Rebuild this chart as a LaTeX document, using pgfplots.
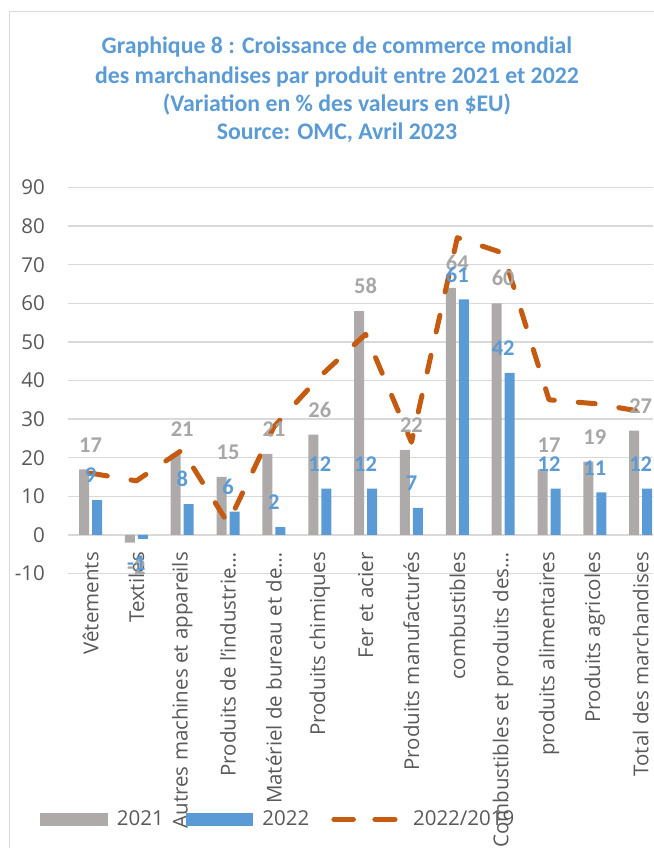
\documentclass[border=0pt]{standalone}
\usepackage{pgfplots}
\pgfplotsset{compat=1.18}
\usepackage{fontspec}
\setmainfont{Open Sans}
\newfontfamily\calibri{Carlito}
\definecolor{gA}{HTML}{AEAAAA}
\definecolor{gL}{HTML}{A8A6A6}
\definecolor{bB}{HTML}{5B9BD5}
\definecolor{oC}{HTML}{C55A11}
\definecolor{gridc}{HTML}{D9D9D9}
\definecolor{txt}{HTML}{595959}
\newcommand{\tickfont}{\fontsize{20.5}{24}\selectfont}
\newcommand{\lblfont}{\calibri\bfseries\fontsize{22.5}{24}\selectfont}
\begin{document}
\begin{tikzpicture}
\useasboundingbox (0,0) rectangle (653pt,848pt);
\draw[gridc, line width=1.5pt] (9.3pt,-5pt) -- (9.3pt,836.3pt) -- (670pt,836.3pt);
\begin{scope}[every node/.style={anchor=base, text=bB, font=\calibri\bfseries\fontsize{23.8}{28}\selectfont}]
\node at (337pt,794.7pt) {Graphique 8 : Croissance de commerce mondial};
\node at (337pt,764.7pt) {des marchandises par produit entre 2021 et 2022};
\node at (337pt,736.3pt) {(Variation en \% des valeurs en \$EU)};
\node at (337pt,708pt) {Source: OMC, Avril 2023};
\end{scope}
\begin{axis}[
  at={(67.6pt,274.5pt)}, anchor=south west,
  scale only axis, width=585.4pt, height=386pt,
  xmin=-0.5, xmax=12.268, ymin=-10, ymax=90,
  ytick={-10,0,10,20,30,40,50,60,70,80,90},
  yticklabels={-10,0,10,20,30,40,50,60,70,80,90},
  xtick={0,1,2,3,4,5,6,7,8,9,10,11,12},
  xticklabels={Vêtements,Textiles,Autres machines et appareils,Produits de l'industrie…,Matériel de bureau et de…,Produits chimiques,Fer et acier,Produits manufacturés,combustibles,Combustibles et produits des…,produits alimentaires,Produits agricoles,Total des marchandises},
  ymajorgrids, grid style={gridc, line width=1.5pt},
  axis line style={draw=none}, major tick length=0pt, tick style={draw=none},
  yticklabel style={font=\tickfont, text=txt, inner sep=0pt},
  yticklabel shift=22.6pt,
  xticklabel style={rotate=90, anchor=east, inner sep=0pt, font=\tickfont, text=txt},
  xticklabel shift=-21.5pt,
  clip=false,
  legend columns=3,
  legend style={at={(-0.04715,-0.6368)}, anchor=west, draw=none, fill=none, inner sep=0pt,
    nodes={inner sep=0pt, font=\tickfont, text=txt},
    /tikz/every odd column/.style={column sep=9pt},
    /tikz/every even column/.style={column sep=22pt}},
  every node near coord/.append style={font=\lblfont, inner xsep=0pt, inner ysep=17pt},
]
\addplot[ybar, bar width=10pt, bar shift=-6.5pt, fill=gA, draw=none,
  nodes near coords={\pgfmathprintnumber[assume math mode=true]{\pgfplotspointmeta}},
  nodes near coords align={vertical},
  every node near coord/.append style={text=gL},
  legend image code/.code={\fill[gA] (0pt,-6.5pt) rectangle (67.7pt,6.5pt);}]
  coordinates {(0,17) (1,-2) (2,21) (3,15) (4,21) (5,26) (6,58) (7,22) (8,64) (9,60) (10,17) (11,19) (12,27)};
\addlegendentry{2021}
\addplot[ybar, bar width=10pt, bar shift=6.5pt, fill=bB, draw=none,
  nodes near coords={\pgfmathprintnumber[assume math mode=true]{\pgfplotspointmeta}},
  nodes near coords align={vertical},
  every node near coord/.append style={text=bB},
  legend image code/.code={\fill[bB] (0pt,-6.5pt) rectangle (67.7pt,6.5pt);}]
  coordinates {(0,9) (1,-1) (2,8) (3,6) (4,2) (5,12) (6,12) (7,7) (8,61) (9,42) (10,12) (11,11) (12,12)};
\addlegendentry{2022}
\addplot[color=oC, line width=5pt, dash pattern=on 17pt off 24pt, line cap=round, line join=round,
  legend image code/.code={\path (0pt,0pt) -- (67.7pt,0pt);
    \draw[oC, line width=5pt, line cap=round] (2.5pt,0pt) -- (21pt,0pt) (44.2pt,0pt) -- (62.5pt,0pt);}]
  coordinates {(0,16) (1,14) (2,22) (3,3) (4,28) (5,41) (6,52) (7,24) (8,77) (9,73) (10,35) (11,34) (12,32)};
\addlegendentry{2022/2019}
\end{axis}
\end{tikzpicture}
\end{document}
